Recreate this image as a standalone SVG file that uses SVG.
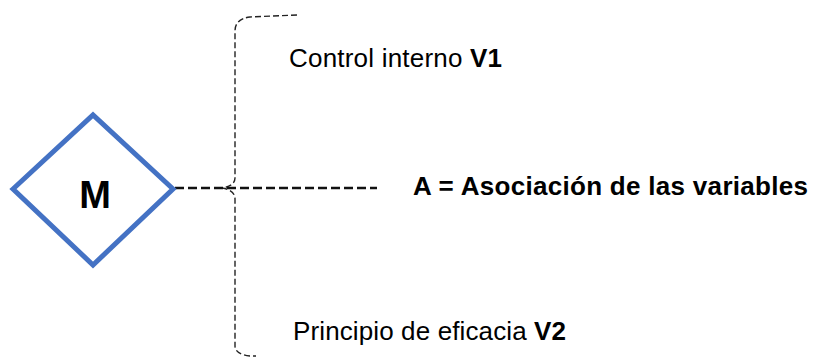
<svg xmlns="http://www.w3.org/2000/svg" width="815" height="362" viewBox="0 0 815 362">
<style>
.t{font-family:"Liberation Sans",Arial,sans-serif;font-size:19px;fill:#000}
.b{font-weight:bold}
.brace{fill:none;stroke:#222;stroke-width:1.4;stroke-dasharray:6 3}
.line{fill:none;stroke:#111;stroke-width:2.6;stroke-dasharray:9 4}
</style>
<rect width="815" height="362" fill="#fff"/>
<g id="connectors">
<path class="brace" d="M297,15 L250,17 Q235,19 235,31 L235,178 Q235,186 222,188 Q235,190 235,199 L235,346 Q235,354 250,356 L256,356"/>
<path class="line" d="M175,188 L377,188"/>
</g>
<g id="node-M">
<polygon points="13,189 93,115 173,189 93,265" fill="#fff" stroke="#4472C4" stroke-width="5"/>
<text x="95" y="208" text-anchor="middle" class="t b" style="font-size:38px">M</text>
</g>
<g id="node-V1">
<text x="289" y="67" class="t" style="font-size:26px" textLength="213">Control interno <tspan class="b">V1</tspan></text>
</g>
<g id="node-A">
<text x="413" y="195" class="t b" style="font-size:26px" textLength="395">A = Asociación de las variables</text>
</g>
<g id="node-V2">
<text x="293" y="340" class="t" style="font-size:26px" textLength="273">Principio de eficacia <tspan class="b">V2</tspan></text>
</g>
</svg>
